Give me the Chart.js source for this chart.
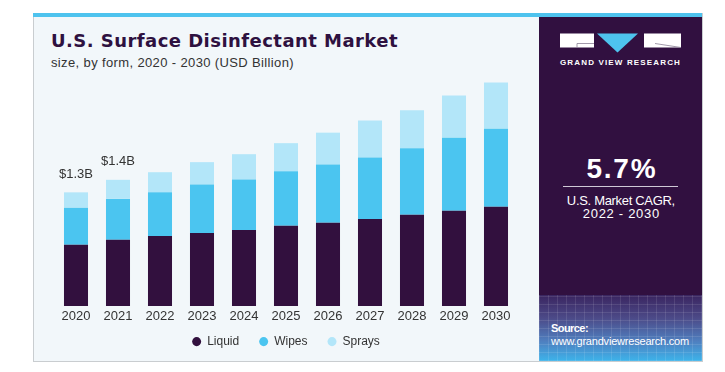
<!DOCTYPE html>
<html>
<head>
<meta charset="utf-8">
<script src="https://cdn.jsdelivr.net/npm/chart.js@4"></script>
<style>
  html,body{margin:0;padding:0;background:#fff;}
  body{width:725px;height:372px;position:relative;overflow:hidden;font-family:"Liberation Sans",Arial,sans-serif;}
  .abs{position:absolute;}
  #stripe{left:33px;top:13px;width:670px;height:4px;background:#4ec3ee;}
  #panel{left:33px;top:17px;width:506px;height:344px;background:#f2f7fa;border-left:1px solid #c9cdd0;}
  #dark{left:539px;top:17px;width:163px;height:344px;background:#311040;}
  #grad{left:539px;top:295px;width:163px;height:66px;
    background:
      repeating-linear-gradient(90deg, rgba(255,255,255,0.10) 0 1px, transparent 1px 9px),
      repeating-linear-gradient(0deg, rgba(255,255,255,0.10) 0 1px, transparent 1px 8px),
      linear-gradient(to bottom,#3a2560 0%,#4c4a88 35%,#4f7fbf 70%,#3db3ea 100%);}
  #rborder{left:702px;top:13px;width:1px;height:349px;background:#c9cdd0;}
  #bborder{left:33px;top:361px;width:670px;height:1px;background:#c9cdd0;}
  canvas{position:absolute;left:0;top:0;}
  .t{position:absolute;white-space:nowrap;line-height:1;}
  #title{left:51px;top:32px;font-size:18px;font-weight:bold;color:#2e1140;font-family:"DejaVu Sans","Liberation Sans",sans-serif;}
  #sub{left:51px;top:56px;font-size:13px;color:#333;}
  #brand{left:560px;top:59px;font-size:8px;font-weight:bold;color:#fff;}
  #cagr{top:155px;font-size:28px;font-weight:bold;color:#fff;}
  #cline{left:563px;top:186px;width:115px;height:1px;background:#cfc8d6;}
  #c1{top:194px;font-size:13px;color:#fff;}
  #c2{top:207px;font-size:13px;color:#fff;}
  #src{left:551px;top:323px;font-size:11px;font-weight:bold;color:#fff;}
  #url{left:551px;top:336px;font-size:11px;color:#fff;}
</style>
</head>
<body>
<div id="panel" class="abs"></div>
<div id="dark" class="abs"></div>
<div id="grad" class="abs"></div>
<div id="stripe" class="abs"></div>
<div id="rborder" class="abs"></div>
<div id="bborder" class="abs"></div>
<svg class="abs" style="left:555px;top:30px" width="135" height="26" viewBox="555 30 135 26">
  <rect x="560" y="33.5" width="34" height="14" fill="#fff"/>
  <path d="M577 47.5 V43.5 H594" stroke="#8a8096" stroke-width="0.8" fill="none"/>
  <polygon points="597,33.5 638,33.5 617.5,52.5" fill="#4ec3ee"/>
  <rect x="644" y="33.5" width="37" height="14" fill="#fff"/>
  <path d="M655 43.5 L681 47.5" stroke="#8a8096" stroke-width="0.8" fill="none"/>
</svg>
<div id="title" class="t">U.S. Surface Disinfectant Market</div>
<div id="sub" class="t">size, by form, 2020 - 2030 (USD Billion)</div>
<div id="brand" class="t">GRAND VIEW RESEARCH</div>
<div id="cagr" class="t">5.7%</div>
<div id="cline" class="abs"></div>
<div id="c1" class="t">U.S. Market CAGR,</div>
<div id="c2" class="t">2022 - 2030</div>
<div id="src" class="t">Source:</div>
<div id="url" class="t">www.grandviewresearch.com</div>
<canvas id="chart" width="725" height="372"></canvas>
<script>
// ---- data ----
const years = ['2020','2021','2022','2023','2024','2025','2026','2027','2028','2029','2030'];
const liquid = [0.70, 0.757, 0.80, 0.834, 0.868, 0.917, 0.952, 0.994, 1.044, 1.089, 1.135];
const wipes  = [0.424, 0.467, 0.50, 0.554, 0.577, 0.623, 0.665, 0.703, 0.760, 0.834, 0.891];
const sprays = [0.175, 0.218, 0.229, 0.256, 0.29, 0.321, 0.364, 0.424, 0.432, 0.482, 0.528];
const totalLabels = ['$1.3B', '$1.4B', '', '', '', '', '', '', '', '', ''];
const seriesNames = ['Liquid', 'Wipes', 'Sprays'];

// ---- text fitting helper ----
function fit(id, target, centerX) {
  const el = document.getElementById(id);
  const n = el.textContent.length;
  const w = el.getBoundingClientRect().width;
  el.style.letterSpacing = ((target - w) / n) + 'px';
  if (centerX !== undefined) {
    const w2 = el.getBoundingClientRect().width;
    el.style.left = (centerX - w2 / 2 + (target - w) / n / 2) + 'px';
  }
}
fit('title', 347);
fit('sub', 243);
fit('brand', 121);
fit('cagr', 71, 621);
fit('c1', 108, 621);
fit('c2', 77, 621);
fit('src', 37);
fit('url', 138);

const totalLabelPlugin = {
  id: 'totalLabels',
  afterDatasetsDraw(chart) {
    const ctx = chart.ctx;
    const meta = chart.getDatasetMeta(chart.data.datasets.length - 1);
    ctx.save();
    ctx.font = '13px "Liberation Sans", Arial, sans-serif';
    ctx.fillStyle = '#333333';
    ctx.textAlign = 'center';
    ctx.textBaseline = 'middle';
    meta.data.forEach((bar, i) => {
      if (totalLabels[i]) ctx.fillText(totalLabels[i], bar.x, bar.y - 18);
    });
    ctx.restore();
  }
};

// move the legend block up so it sits closer to the axis labels
const legendShift = {
  id: 'legendShift',
  afterLayout(chart) {
    if (chart.legend) {
      chart.legend.top -= 12;
      chart.legend.bottom -= 12;
    }
  }
};

new Chart(document.getElementById('chart'), {
  type: 'bar',
  data: {
    labels: years,
    datasets: [
      { label: seriesNames[0], data: liquid, backgroundColor: '#32103e' },
      { label: seriesNames[1], data: wipes,  backgroundColor: '#4bc5f0' },
      { label: seriesNames[2], data: sprays, backgroundColor: '#b3e6f9' }
    ]
  },
  options: {
    responsive: false,
    animation: false,
    devicePixelRatio: 1,
    categoryPercentage: 1,
    barPercentage: 0.572,
    layout: { padding: { left: 55, right: 208, top: 61, bottom: 2.4 } },
    plugins: {
      legend: {
        position: 'bottom',
        labels: {
          usePointStyle: true,
          pointStyle: 'circle',
          pointStyleWidth: 9,
          boxWidth: 9,
          boxHeight: 6.4,
          padding: 20,
          color: '#333333',
          font: { family: '"Liberation Sans", Arial, sans-serif', size: 12 }
        }
      },
      tooltip: { enabled: false }
    },
    scales: {
      x: {
        stacked: true,
        grid: { display: false, drawTicks: false },
        border: { display: false },
        ticks: { color: '#333333', padding: 3, font: { family: '"Liberation Sans", Arial, sans-serif', size: 13 } }
      },
      y: { stacked: true, display: false, min: 0, max: 2.8 }
    }
  },
  plugins: [totalLabelPlugin, legendShift]
});
</script>
</body>
</html>
